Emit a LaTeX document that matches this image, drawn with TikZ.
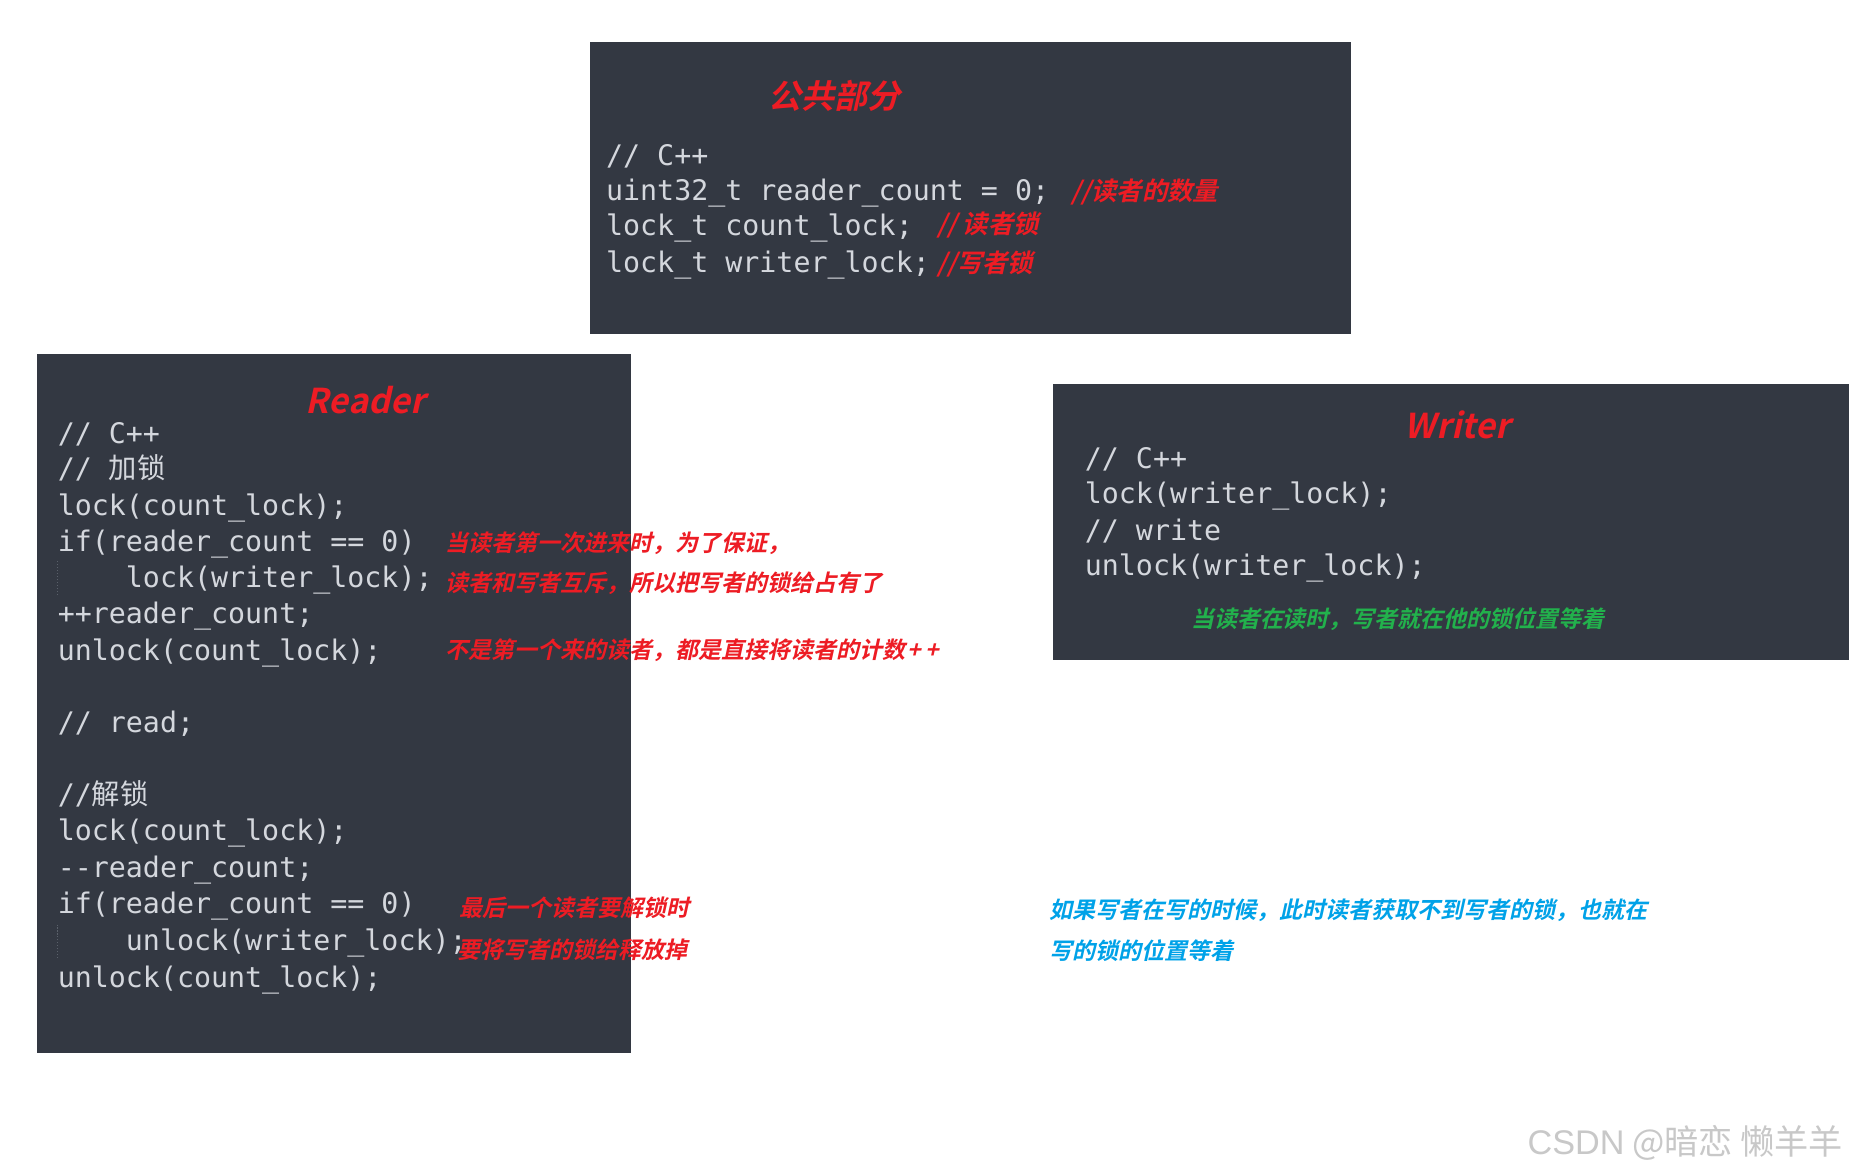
\documentclass[tikz,border=0pt]{standalone}
\usepackage{fontspec}
\setmonofont{DejaVu Sans Mono}
\newfontfamily\cjk{Noto Sans CJK SC}
\newfontfamily\cjkbi{Noto Sans CJK SC}[UprightFont=* Bold, FakeSlant=0.22]
\newfontfamily\wmfont{Liberation Sans}
\definecolor{codebg}{HTML}{333842}
\definecolor{codefg}{HTML}{D4D7DD}
\definecolor{pred}{HTML}{ED1C24}
\definecolor{pgreen}{HTML}{22B14C}
\definecolor{pblue}{HTML}{00A2E8}
\definecolor{guide}{HTML}{5A606A}
\definecolor{wm}{HTML}{C8C8C8}
\newcommand{\us}{\_}
\newcommand{\ind}{\phantom{xxxx}}
\begin{document}
\begin{tikzpicture}[x=1pt,y=-1pt,
  every node/.style={inner sep=0pt,outer sep=0pt,anchor=base west},
  panel/.style={fill=codebg,draw=none},
  code/.style={text=codefg,font=\ttfamily\fontsize{24}{28}\selectfont},
  note/.style={font=\cjkbi\fontsize{19.5}{24}\selectfont},
  bignote/.style={text=pred,font=\cjkbi\fontsize{21.5}{24}\selectfont},
  rednote/.style={note,text=pred},
  greennote/.style={note,text=pgreen},
  bluenote/.style={note,text=pblue},
  title/.style={text=pred,font=\cjkbi\fontsize{29}{34}\selectfont,anchor=base},
  guideline/.style={draw=guide,line width=0.8pt,dash pattern=on 1pt off 1.5pt}]
\useasboundingbox (0,0) rectangle (1568,996.5);
\fill[white] (0,0) rectangle (1568,996.5);
% panels
\fill[panel] (500,36) rectangle (1146,283);
\fill[panel] (31,300) rectangle (535,893);
\fill[panel] (893,326) rectangle (1568,560);

% top panel
\node[title,font=\cjkbi\fontsize{28}{32}\selectfont] (ttitle) at (708,92) {公共部分};
\node[code] (t1) at (514,140) {// C++};
\node[code] (t2) at (514,170) {uint32\us t reader\us count = 0;};
\node[code] (t3) at (514,200) {lock\us t count\us lock;};
\node[code] (t4) at (514,231) {lock\us t writer\us lock;};
\node[bignote] (tc2) at (909,170) {//读者的数量};
\node[bignote] (tc3) at (795,198) {// 读者锁};
\node[bignote] (tc4) at (795,231) {//写者锁};

% reader panel
\node[title] (rtitle) at (310,351) {Reader};
\node[code] (r1) at (49,376) {// C++};
\node[code] (r2) at (49,406) {// {\cjk 加锁}};
\node[code] (r3) at (49,437) {lock(count\us lock);};
\node[code] (r4) at (49,468) {if(reader\us count == 0)};
\node[code] (r5) at (49,498) {\ind lock(writer\us lock);};
\node[code] (r6) at (49,529) {++reader\us count;};
\node[code] (r7) at (49,560) {unlock(count\us lock);};
\node[code] (r8) at (49,621) {// read;};
\node[code] (r9) at (49,682) {//{\cjk 解锁}};
\node[code] (r10) at (49,713) {lock(count\us lock);};
\node[code] (r11) at (49,744) {-{}-reader\us count;};
\node[code] (r12) at (49,775) {if(reader\us count == 0)};
\node[code] (r13) at (49,806) {\ind unlock(writer\us lock);};
\node[code] (r14) at (49,837) {unlock(count\us lock);};
\coordinate (g1a) at (49,476); \coordinate (g1b) at (49,506);
\coordinate (g2a) at (49,784); \coordinate (g2b) at (49,814);
\draw[guideline] (g1a) -- (g1b);
\draw[guideline] (g2a) -- (g2b);
\node[rednote] (rn1) at (378,467.5) {当读者第一次进来时，为了保证，};
\node[rednote] (rn2) at (378,501.5) {读者和写者互斥，所以把写者的锁给占有了};
\node[rednote] (rn3) at (378,558.5) {不是第一个来的读者，都是直接将读者的计数\hspace{2pt}+\hspace{3pt}+};
\node[rednote] (rn4) at (390,777.5) {最后一个读者要解锁时};
\node[rednote] (rn5) at (388,812.5) {要将写者的锁给释放掉};

% writer panel
\node[title] (wtitle) at (1236,372) {Writer};
\node[code] (w1) at (920,397) {// C++};
\node[code] (w2) at (920,427) {lock(writer\us lock);};
\node[code] (w3) at (920,458) {// write};
\node[code] (w4) at (920,488) {unlock(writer\us lock);};
\node[greennote] (wn) at (1010,532.5) {当读者在读时，写者就在他的锁位置等着};

% blue notes
\node[bluenote] (b1) at (890,778.5) {如果写者在写的时候，此时读者获取不到写者的锁，也就在};
\node[bluenote] (b2) at (890,813.5) {写的锁的位置等着};

% watermark
\node[text=wm,font=\cjk\fontsize{29}{32}\selectfont,anchor=base east] (wmark) at (1563,979) {{\wmfont CSDN} @暗恋 懒羊羊};
\end{tikzpicture}
\end{document}
